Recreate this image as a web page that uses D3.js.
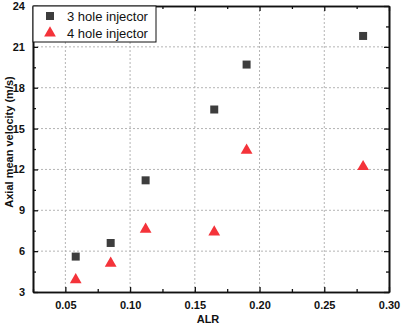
<!DOCTYPE html>
<html><head><meta charset="utf-8">
<script src="https://cdn.jsdelivr.net/npm/d3@7"></script>
<style>html,body{margin:0;padding:0;background:#fff;}svg{display:block;font-family:"Liberation Sans",Arial,sans-serif;}</style>
</head><body>
<svg id="c" width="402" height="328"></svg>
<script>
const alr = [0.058, 0.085, 0.112, 0.165, 0.19, 0.28];
const vel3 = [5.6, 6.6, 11.2, 16.4, 19.7, 21.8];
const vel4 = [3.9, 5.1, 7.6, 7.4, 13.4, 12.2];
const xTicks = [0.05, 0.10, 0.15, 0.20, 0.25, 0.30];
const yTicks = [3, 6, 9, 12, 15, 18, 21, 24];
const seriesNames = ["3 hole injector", "4 hole injector"];

const svg = d3.select("#c");
const L = 33, R = 389, T = 6, B = 292;
const x = d3.scaleLinear().domain([0.025, 0.30]).range([L, R]);
const y = d3.scaleLinear().domain([3, 24]).range([B, T]);
const xMinor = d3.range(0.025, 0.3001, 0.025).filter(v => !xTicks.some(t => Math.abs(t - v) < 1e-6));
const yMinor = d3.range(4.5, 24, 3);

// grid
const g = svg.append("g");
g.selectAll(".gx").data(xTicks.filter(v => v < 0.3)).enter().append("line")
  .attr("x1", d => x(d)).attr("x2", d => x(d)).attr("y1", T).attr("y2", B)
  .attr("stroke", "#b4b4b4").attr("stroke-width", 1).attr("stroke-dasharray", "2,2");
g.selectAll(".gy").data(yTicks.filter(v => v > 3 && v < 24)).enter().append("line")
  .attr("y1", d => y(d)).attr("y2", d => y(d)).attr("x1", L).attr("x2", R)
  .attr("stroke", "#b4b4b4").attr("stroke-width", 1).attr("stroke-dasharray", "2,2");

// axes with inward ticks
function ax(gen, tr) { return svg.append("g").attr("transform", tr).call(gen); }
const fmtX = d3.format(".2f");
ax(d3.axisBottom(x).tickValues(xTicks).tickFormat(fmtX).tickSizeInner(-5).tickSizeOuter(0).tickPadding(9), `translate(0,${B})`);
ax(d3.axisBottom(x).tickValues(xMinor).tickFormat("").tickSizeInner(-3).tickSizeOuter(0), `translate(0,${B})`);
ax(d3.axisLeft(y).tickValues(yTicks).tickFormat(d3.format("d")).tickSizeInner(-5).tickSizeOuter(0).tickPadding(8), `translate(${L},0)`);
ax(d3.axisLeft(y).tickValues(yMinor).tickFormat("").tickSizeInner(-3).tickSizeOuter(0), `translate(${L},0)`);
ax(d3.axisTop(x).tickValues(xTicks).tickFormat("").tickSizeInner(-5).tickSizeOuter(0), `translate(0,${T})`);
ax(d3.axisTop(x).tickValues(xMinor).tickFormat("").tickSizeInner(-3).tickSizeOuter(0), `translate(0,${T})`);
ax(d3.axisRight(y).tickValues(yTicks).tickFormat("").tickSizeInner(-5).tickSizeOuter(0), `translate(${R},0)`);
ax(d3.axisRight(y).tickValues(yMinor).tickFormat("").tickSizeInner(-3).tickSizeOuter(0), `translate(${R},0)`);
svg.selectAll(".domain").attr("stroke", "#111").attr("stroke-width", 1.6);
svg.selectAll(".tick line").attr("stroke", "#111").attr("stroke-width", 1.3);
svg.selectAll(".tick text").attr("font-family", "Liberation Sans, Arial, sans-serif").attr("font-size", 11).attr("font-weight", "bold").attr("fill", "#111");

// titles
svg.append("text").attr("x", 208).attr("y", 323).attr("text-anchor", "middle")
  .attr("font-size", 11).attr("font-weight", "bold").attr("fill", "#111").text("ALR");
svg.append("text").attr("transform", `translate(12.5,142) rotate(-90)`).attr("text-anchor", "middle")
  .attr("font-size", 11).attr("font-weight", "bold").attr("fill", "#111").text("Axial mean velocity (m/s)");

// points
const sq = d3.symbol().type(d3.symbolSquare).size(64);
const tri = d3.symbol().type(d3.symbolTriangle).size(60);
svg.selectAll(".s3").data(alr).enter().append("path")
  .attr("d", sq).attr("transform", (d, i) => `translate(${x(d)},${y(vel3[i])})`).attr("fill", "#3d3d3d");
svg.selectAll(".s4").data(alr).enter().append("path")
  .attr("d", tri).attr("transform", (d, i) => `translate(${x(d)},${y(vel4[i])})`).attr("fill", "#f4333a");

// legend
const lg = svg.append("g");
lg.append("rect").attr("x", L).attr("y", T).attr("width", 123).attr("height", 36)
  .attr("fill", "#fff").attr("stroke", "#111").attr("stroke-width", 1);
lg.append("path").attr("d", sq).attr("transform", `translate(50,16)`).attr("fill", "#3d3d3d");
lg.append("path").attr("d", tri).attr("transform", `translate(50,33)`).attr("fill", "#f4333a");
lg.selectAll(".lt").data(seriesNames).enter().append("text")
  .attr("x", 67).attr("y", (d, i) => 21 + i * 17).attr("font-size", 13).attr("fill", "#111").text(d => d);
</script>
</body></html>
